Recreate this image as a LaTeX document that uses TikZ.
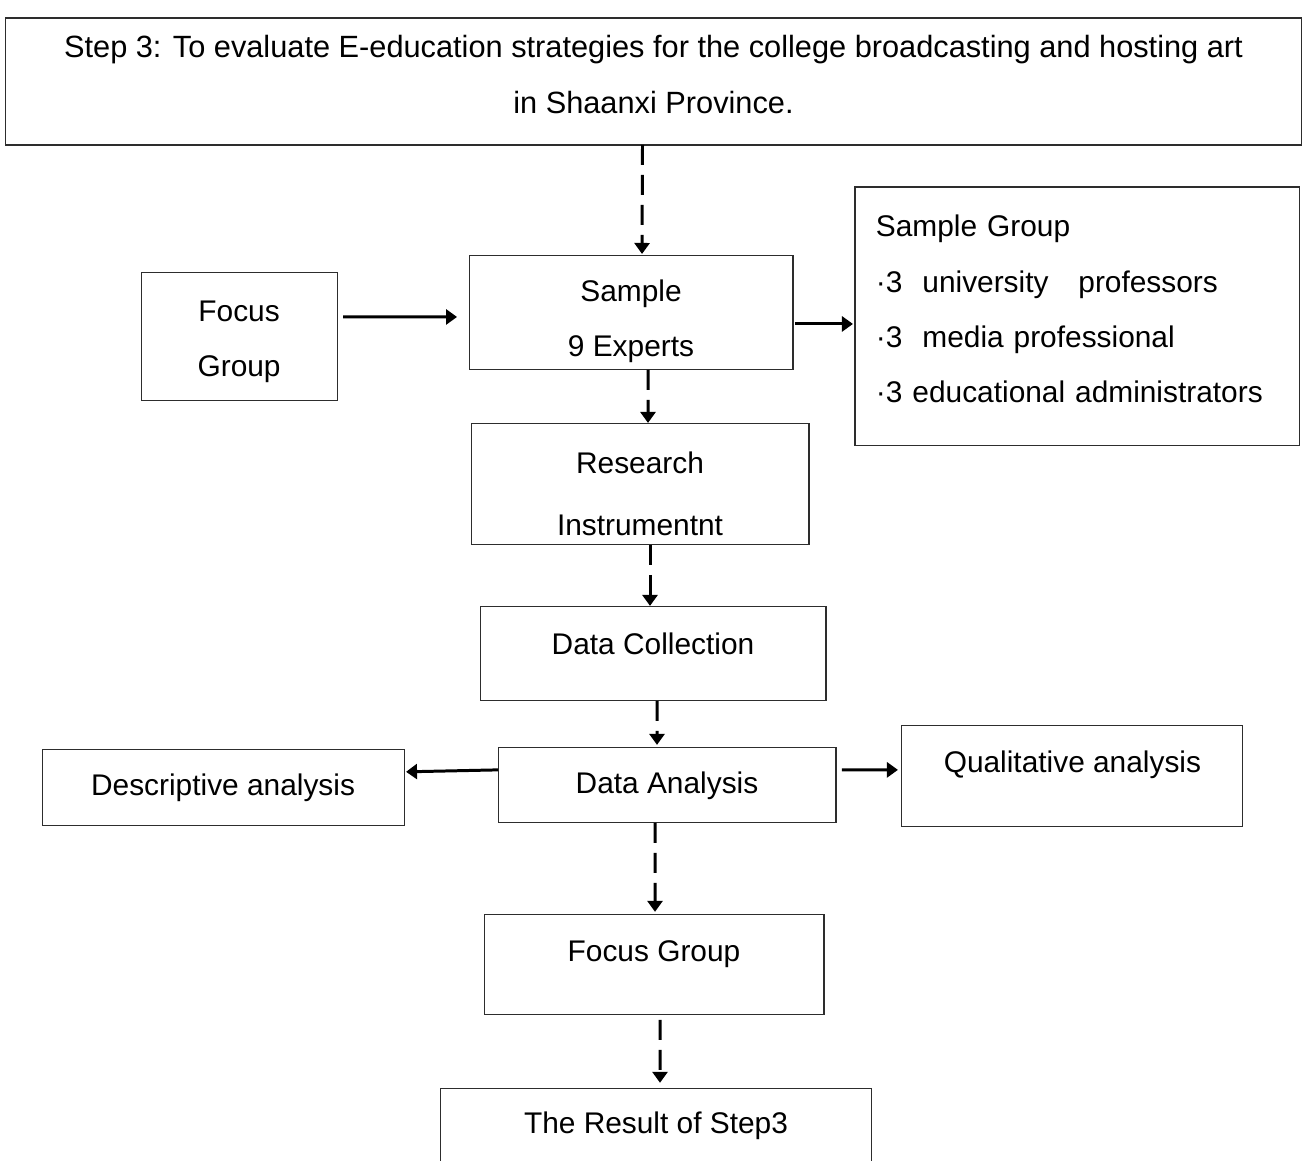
\documentclass[tikz,border=0pt]{standalone}
\usepackage{fontspec}
\setmainfont{Liberation Sans}
\usetikzlibrary{arrows.meta, positioning}
\definecolor{boxline}{RGB}{45, 45, 45}

\begin{document}
\begin{tikzpicture}[
    x=0.02cm, y=-0.02cm,
    node distance=1cm and 1cm,
    stage/.style={draw=boxline, line width=0.6pt, outer sep=0pt, inner sep=2pt, align=center, font=\fontsize{17}{31.5}\selectfont},
    arrow/.style={-{Triangle[length=0.22cm, width=0.3cm]}, line width=1.7pt},
    dasharrow/.style={arrow, dash pattern=on 0.4cm off 0.2cm}
]
    \useasboundingbox (0,0) rectangle (1304,1160);

    % Nodes - main column
    \node[stage, minimum width=25.94cm, minimum height=2.54cm, font=\fontsize{17.5}{32}\selectfont] (step) at (653.5,81.5)
        {Step 3: To evaluate E-education strategies for the college broadcasting and hosting art\\in Shaanxi Province.\rule[-0.28cm]{0pt}{0pt}};
    \node[stage, minimum width=6.48cm, minimum height=2.28cm, below=2.22cm of step, xshift=-0.45cm] (sample) {\rule{0pt}{0.76cm}Sample\\9 Experts};
    \node[stage, minimum width=6.76cm, minimum height=2.42cm, below=1.08cm of sample, xshift=0.18cm] (instrument) {\rule{0pt}{0.8cm}Research\\[0.14cm]Instrumentnt};
    \node[stage, minimum width=6.92cm, minimum height=1.88cm, text depth=0.4cm, below=1.24cm of instrument, xshift=0.26cm] (collect) {Data Collection};
    \node[stage, minimum width=6.76cm, minimum height=1.5cm, below=0.94cm of collect, xshift=0.28cm] (analysis) {Data Analysis};
    \node[stage, minimum width=6.8cm, minimum height=2cm, text depth=0.55cm, below=1.84cm of analysis, xshift=-0.26cm] (focus) {Focus Group};
    \node[stage, minimum width=8.64cm, minimum height=1.48cm, below=1.48cm of focus, xshift=0.04cm] (result) {The Result of Step3};

    % Nodes - side boxes
    \node[stage, minimum width=3.92cm, minimum height=2.56cm, left=2.64cm of sample, yshift=-0.48cm] (panel) {\rule{0pt}{0.6cm}Focus\\Group};
    \node[stage, minimum width=8.9cm, minimum height=5.18cm, text width=8.06cm, align=left, right=1.24cm of sample, yshift=-0.07cm] (group)
        {Sample Group\\·3\ \ university\ \ \ professors\\·3\ \ media professional\\·3 educational administrators\rule[-0.3cm]{0pt}{0pt}};
    \node[stage, minimum width=7.24cm, minimum height=1.52cm, left=1.88cm of analysis, yshift=-0.05cm] (descriptive) {Descriptive analysis};
    \node[stage, minimum width=6.82cm, minimum height=2.02cm, text depth=0.58cm, right=1.32cm of analysis, yshift=0.18cm] (qualitative) {Qualitative analysis};

    % Arrows
    \draw[dasharrow, shorten >=0.04cm] ([xshift=-0.22cm]step.south) -- ([xshift=0.22cm]sample.north);
    \draw[dasharrow, shorten >=0.02cm] ([xshift=0.34cm]sample.south) -- ([xshift=0.16cm]instrument.north);
    \draw[dasharrow, shorten >=0.02cm] ([xshift=0.2cm]instrument.south) -- ([xshift=-0.06cm]collect.north);
    \draw[dasharrow, shorten >=0.06cm] ([xshift=0.08cm]collect.south) -- ([xshift=-0.2cm]analysis.north);
    \draw[dasharrow, shorten >=0.06cm] ([xshift=-0.24cm]analysis.south) -- ([xshift=0.02cm]focus.north);
    \draw[dasharrow, shorten <=0.1cm, shorten >=0.12cm] ([xshift=0.12cm]focus.south) -- ([xshift=0.08cm]result.north);
    \draw[arrow, shorten <=0.12cm, shorten >=0.24cm] ([yshift=0.4cm]panel.east) -- ([yshift=-0.08cm]sample.west);
    \draw[arrow, shorten <=0.04cm, shorten >=0.04cm] ([yshift=-0.22cm]sample.east) -- ([yshift=-0.15cm]group.west);
    \draw[arrow, shorten >=0.04cm] ([yshift=0.31cm]analysis.west) -- ([yshift=0.32cm]descriptive.east);
    \draw[arrow, shorten <=0.12cm, shorten >=0.08cm] ([yshift=0.31cm]analysis.east) -- ([yshift=0.13cm]qualitative.west);
\end{tikzpicture}
\end{document}
